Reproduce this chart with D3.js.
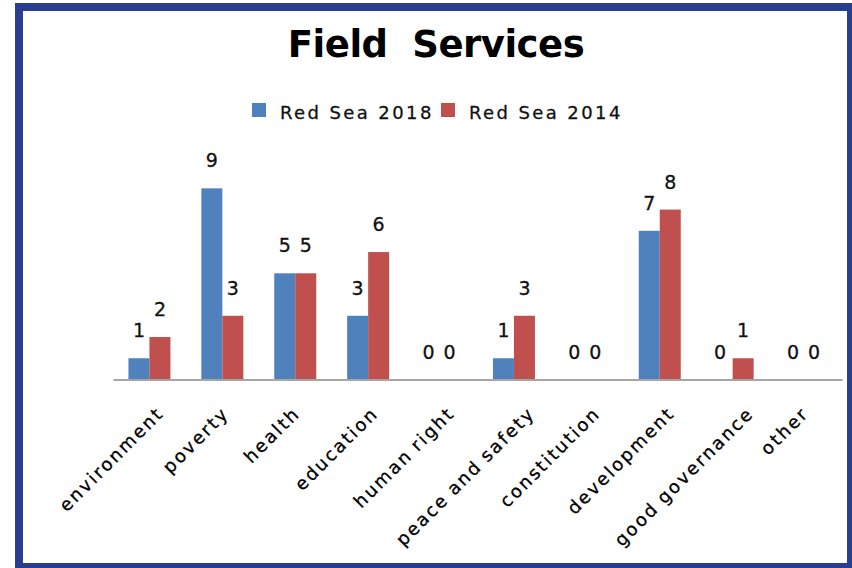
<!DOCTYPE html>
<html>
<head>
<meta charset="utf-8">
<script src="https://cdn.jsdelivr.net/npm/d3@7"></script>
<style>
  html, body { margin: 0; padding: 0; background: #fff; }
  svg { display: block; }
  text { font-family: "DejaVu Sans", Verdana, sans-serif; }
</style>
</head>
<body>
<svg id="chart" width="852" height="568"></svg>
<script>
const title = "Field  Services";
const categories = ["environment", "poverty", "health", "education", "human right",
  "peace and safety", "constitution", "development", "good governance", "other"];
const seriesNames = ["Red Sea 2018", "Red Sea 2014"];
const values2018 = [1, 9, 5, 3, 0, 1, 0, 7, 0, 0];
const values2014 = [2, 3, 5, 6, 0, 3, 0, 8, 1, 0];
const seriesColors = ["#4f81bd", "#c0504d"];

const svg = d3.select("#chart");

// frame
svg.append("rect").attr("x", 0).attr("y", 0).attr("width", 852).attr("height", 568).attr("fill", "#fff");
svg.append("rect")
  .attr("x", 19).attr("y", 7).attr("width", 832).attr("height", 560)
  .attr("fill", "#fff").attr("stroke", "#283f8f").attr("stroke-width", 8);

// title
svg.append("text")
  .attr("x", 436).attr("y", 57)
  .attr("text-anchor", "middle")
  .attr("font-size", 37).attr("font-weight", "bold")
  .attr("letter-spacing", -0.5)
  .style("white-space", "pre")
  .attr("fill", "#000")
  .text(title);

// scales
const plot = { left: 113, right: 842, base: 379.5 };
const x0 = d3.scaleBand().domain(categories).range([plot.left, plot.right])
  .paddingInner(0.424).paddingOuter(0.212);
const x1 = d3.scaleBand().domain(seriesNames).range([0, x0.bandwidth()]);
const y = d3.scaleLinear().domain([0, 10]).range([plot.base, plot.base - 212.4]);

const data = categories.map((c, i) => ({ cat: c, vals: [values2018[i], values2014[i]] }));

// bars
const groups = svg.append("g").selectAll("g").data(data).join("g")
  .attr("transform", d => `translate(${x0(d.cat)},0)`);
groups.selectAll("rect").data(d => d.vals.map((v, k) => ({ v, s: seriesNames[k], k })))
  .join("rect")
  .attr("x", d => x1(d.s))
  .attr("y", d => y(d.v))
  .attr("width", x1.bandwidth())
  .attr("height", d => y(0) - y(d.v))
  .attr("fill", d => seriesColors[d.k]);

// value labels
groups.selectAll("text").data(d => d.vals.map((v, k) => ({ v, s: seriesNames[k], k })))
  .join("text")
  .attr("x", d => x1(d.s) + x1.bandwidth() / 2 - (d.v === 0 ? 2 : 0))
  .attr("y", d => y(d.v) - 21)
  .attr("text-anchor", "middle")
  .attr("font-size", 19)
  .attr("fill", "#111").attr("stroke", "#111").attr("stroke-width", 0.3)
  .text(d => d.v);

// axis
const axis = d3.axisBottom(d3.scaleBand().domain(categories).range([plot.left, plot.right]))
  .tickSize(0).tickPadding(0);
const ax = svg.append("g").attr("transform", `translate(0,${plot.base})`).call(axis);
ax.select(".domain").attr("stroke", "#a6a6a6").attr("stroke-width", 2);
ax.selectAll(".tick text")
  .attr("font-size", 18)
  .attr("letter-spacing", 2.2)
  .attr("word-spacing", -1.5)
  .attr("fill", "#000").attr("stroke", "#000").attr("stroke-width", 0.3)
  .attr("text-anchor", "end")
  .attr("dy", 0)
  .each(function () {
    const w = this.getComputedTextLength();
    const off = 0.14 * w - 4;
    d3.select(this).attr("transform", `translate(${off},35) rotate(-45)`).attr("y", 0).attr("x", 0);
  });

// legend
const legend = svg.append("g");
const legendX = [252, 441];
seriesNames.forEach((name, k) => {
  legend.append("rect").attr("x", legendX[k]).attr("y", 103).attr("width", 14).attr("height", 14)
    .attr("fill", seriesColors[k]);
  legend.append("text").attr("x", legendX[k] + 28).attr("y", 118.5)
    .attr("font-size", 18).attr("letter-spacing", 2.4).attr("fill", "#111")
    .attr("stroke", "#111").attr("stroke-width", 0.3)
    .text(name);
});
</script>
</body>
</html>
